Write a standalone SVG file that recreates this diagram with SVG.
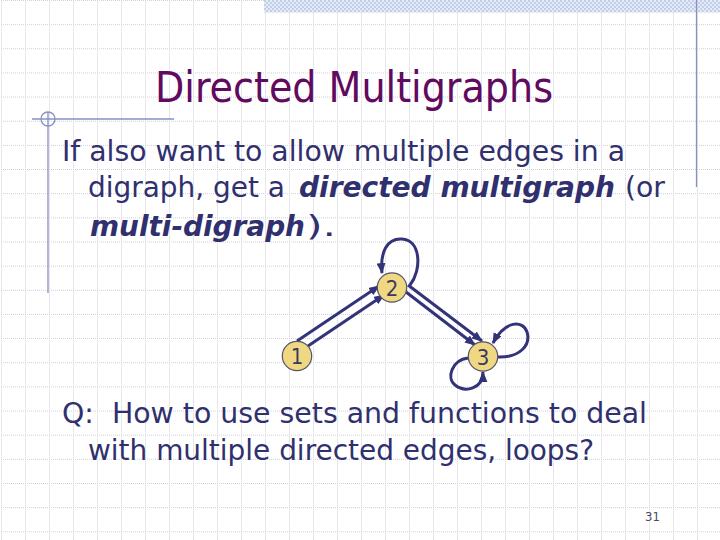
<svg xmlns="http://www.w3.org/2000/svg" width="720" height="540" viewBox="0 0 720 540">
<style>
.body{font-family:"DejaVu Sans Condensed","DejaVu Sans",sans-serif;font-size:28px;fill:#30306e;white-space:pre}
.bi{font-weight:bold;font-style:italic}
.title{font-family:"DejaVu Sans Condensed","DejaVu Sans",sans-serif;font-size:42px;fill:#600a60}
.node circle{fill:#f0d882;stroke:#55556a;stroke-width:1.2}
.node text{font-family:"DejaVu Sans Condensed","DejaVu Sans",sans-serif;font-size:22px;fill:#3a3a5e;text-anchor:middle}
.edge{fill:none;stroke:#33337a;stroke-width:3;marker-end:url(#arr)}
.deco{stroke:#8590c4;stroke-width:1.3;fill:none}
</style>
<defs>
<pattern id="grid" x="1" y="0" width="24" height="24.15" patternUnits="userSpaceOnUse">
<path d="M0.5,0V24.15M0,0.5H24" stroke="#cfd0d8" stroke-width="1" stroke-dasharray="1,1" fill="none"/>
</pattern>
<pattern id="checker" x="0" y="0" width="4" height="4" patternUnits="userSpaceOnUse">
<rect width="4" height="4" fill="#e4eaf6"/>
<rect width="2" height="2" fill="#c2cfe8"/>
<rect x="2" y="2" width="2" height="2" fill="#c2cfe8"/>
</pattern>
<marker id="arr" viewBox="0 0 10 8" refX="9" refY="4" markerWidth="11" markerHeight="9" markerUnits="userSpaceOnUse" orient="auto">
<path d="M0,0L10,4L0,8z" fill="#33337a"/>
</marker>
</defs>
<rect width="720" height="540" fill="#ffffff"/>
<rect width="720" height="540" fill="url(#grid)"/>
<rect x="264" y="0" width="456" height="12.5" fill="url(#checker)"/>
<line class="deco" x1="696.5" y1="0" x2="696.5" y2="187"/>
<line class="deco" x1="32" y1="119" x2="174" y2="119"/>
<line class="deco" x1="48" y1="112" x2="48" y2="293"/>
<circle class="deco" cx="48" cy="119" r="7"/>
<text class="title" x="155" y="102" textLength="398" lengthAdjust="spacingAndGlyphs">Directed Multigraphs</text>
<text class="body" x="62" y="161" textLength="563" lengthAdjust="spacingAndGlyphs">If also want to allow multiple edges in a</text>
<text class="body" x="88" y="197" textLength="197" lengthAdjust="spacingAndGlyphs">digraph, get a</text>
<text class="body bi" x="299" y="197" textLength="316" lengthAdjust="spacingAndGlyphs">directed multigraph</text>
<text class="body" x="625" y="197" textLength="40" lengthAdjust="spacingAndGlyphs">(or</text>
<text class="body bi" x="90" y="236" textLength="215" lengthAdjust="spacingAndGlyphs">multi-digraph</text>
<text class="body" x="306" y="236" textLength="30" lengthAdjust="spacingAndGlyphs">).</text>
<text class="body" x="62" y="423" textLength="585" lengthAdjust="spacingAndGlyphs">Q:  How to use sets and functions to deal</text>
<text class="body" x="88" y="460" textLength="506" lengthAdjust="spacingAndGlyphs">with multiple directed edges, loops?</text>
<text x="645" y="521" font-family="DejaVu Sans Condensed, DejaVu Sans, sans-serif" font-size="13" fill="#4a4a5e">31</text>
<g id="connectors">
<path class="edge" d="M297,341L379,286"/>
<path class="edge" d="M308,346L384,295"/>
<path class="edge" d="M408,285L482,341"/>
<path class="edge" d="M406,292L475,345"/>
<path class="edge" d="M410,285C422,270 421,240 402,239C387,238 380,252 382,273"/>
<path class="edge" d="M497,357C520,358 531,345 527,332C523,320 505,320 493,343"/>
<path class="edge" d="M468,358C452,360 446,378 455,385C465,393 483,389 483,372"/>
</g>
<g id="node1" class="node"><circle cx="297" cy="356" r="14.7"/><text x="297" y="364">1</text></g>
<g id="node2" class="node"><circle cx="392" cy="287.5" r="14.7"/><text x="392" y="295.5">2</text></g>
<g id="node3" class="node"><circle cx="483" cy="356.5" r="14.7"/><text x="483" y="364.5">3</text></g>
</svg>
